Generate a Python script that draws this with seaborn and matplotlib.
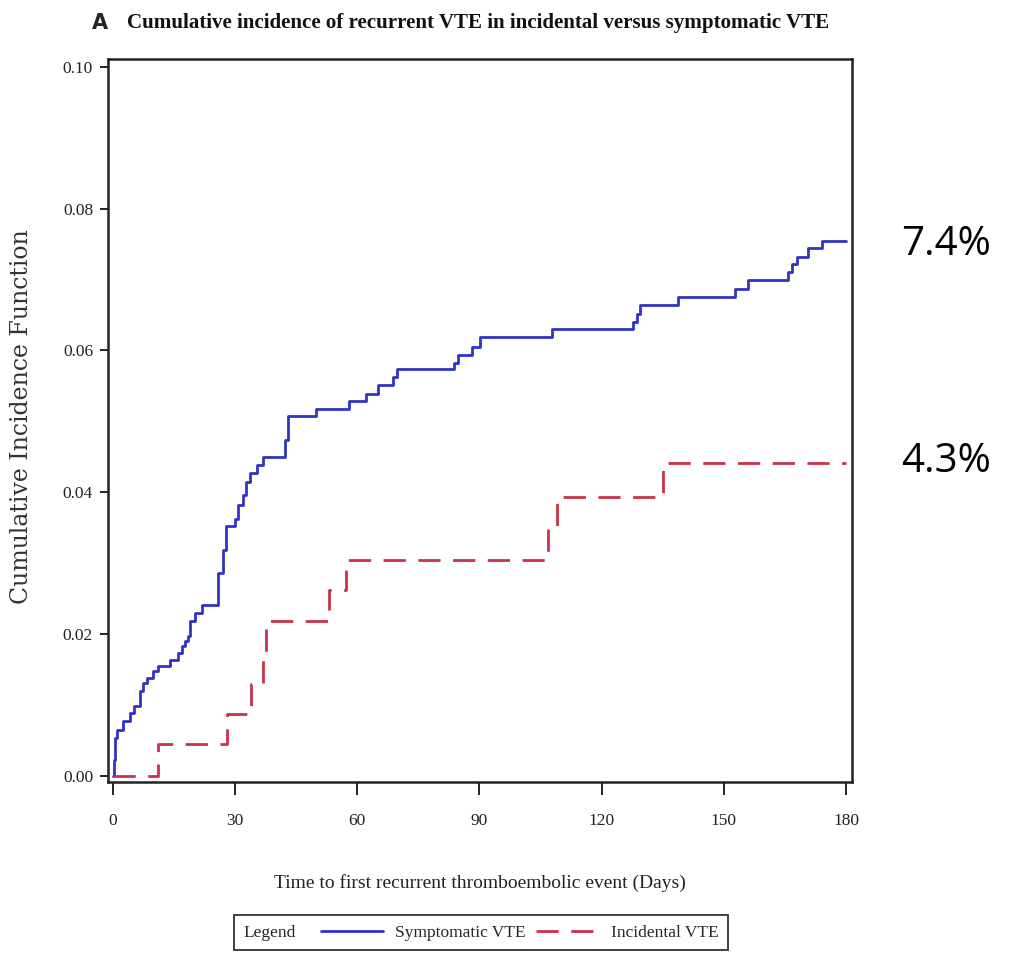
import numpy as np
import pandas as pd
import matplotlib.pyplot as plt
import seaborn as sns
from matplotlib.offsetbox import HPacker

# === DATA ===
sym_days = [0, 0.2, 0.5, 1.1, 2.5, 4.2, 5.2, 6.6, 7.4, 8.5, 9.8, 11.1, 14.0, 16.0,
            16.9, 17.8, 18.5, 18.9, 20.1, 21.8, 25.9, 27.1, 27.9, 30.0, 30.8, 32.0,
            32.8, 33.6, 35.3, 36.9, 42.2, 43.1, 49.8, 58.0, 62.1, 65.0, 68.8, 69.9,
            83.7, 84.8, 88.1, 90.1, 107.9, 127.8, 128.6, 129.4, 138.8, 152.7, 156.0,
            165.8, 166.8, 167.9, 170.7, 174.0, 180.0]
sym_cif = [0.0, 0.0023, 0.0054, 0.0065, 0.0077, 0.0089, 0.0099, 0.0120, 0.0131,
           0.0138, 0.0148, 0.0155, 0.0164, 0.0173, 0.0183, 0.0190, 0.0197, 0.0218,
           0.0230, 0.0241, 0.0286, 0.0319, 0.0352, 0.0363, 0.0382, 0.0396, 0.0415,
           0.0427, 0.0439, 0.0450, 0.0474, 0.0507, 0.0518, 0.0529, 0.0539, 0.0551,
           0.0563, 0.0574, 0.0582, 0.0594, 0.0605, 0.0619, 0.0630, 0.0640, 0.0652,
           0.0664, 0.0676, 0.0686, 0.0699, 0.0711, 0.0722, 0.0732, 0.0745, 0.0755,
           0.0755]

inc_days = [0, 11.1, 28.1, 34.0, 36.9, 37.7, 53.1, 57.2, 106.9, 109.0, 135.1, 180.0]
inc_cif = [0.0, 0.0045, 0.0088, 0.0130, 0.0173, 0.0218, 0.0262, 0.0305, 0.0349,
           0.0394, 0.0441, 0.0441]

groups = ["Symptomatic VTE", "Incidental VTE"]
x_ticks = [0, 30, 60, 90, 120, 150, 180]
y_ticks = [0.00, 0.02, 0.04, 0.06, 0.08, 0.10]
end_labels = ["7.4%", "4.3%"]

df = pd.concat([
    pd.DataFrame({"day": sym_days, "cif": sym_cif, "group": groups[0]}),
    pd.DataFrame({"day": inc_days, "cif": inc_cif, "group": groups[1]}),
], ignore_index=True)

# === STYLE ===
sns.set_theme(style="ticks")
plt.rcParams["font.family"] = ["Liberation Serif", "DejaVu Serif"]

palette = {groups[0]: "#3232c4", groups[1]: "#c8324a"}
dashes = {groups[0]: "", groups[1]: (8, 4.5)}

fig = plt.figure(figsize=(10.17, 9.56), dpi=100)
ax = fig.add_axes([0.1065, 0.182, 0.7316, 0.7563])

sns.lineplot(data=df, x="day", y="cif", hue="group", style="group",
             hue_order=groups, style_order=groups, palette=palette, dashes=dashes,
             drawstyle="steps-post", estimator=None, linewidth=2.0, legend=False, ax=ax)

ax.set_xlim(-1.08, 181.55)
ax.set_ylim(-0.00085, 0.1011)
ax.set_xticks(x_ticks)
ax.set_xticklabels([str(t) for t in x_ticks])
ax.set_yticks(y_ticks)
ax.set_yticklabels([f"{t:.2f}" for t in y_ticks])
ax.tick_params(axis="x", direction="out", length=9, width=1.4, pad=13, labelsize=12.5, colors="#222222")
ax.tick_params(axis="y", direction="out", length=6, width=1.4, pad=5, labelsize=12.5, colors="#222222")
for s in ax.spines.values():
    s.set_visible(True)
    s.set_linewidth(1.8)
    s.set_color("#222222")

ax.set_xlabel("Time to first recurrent thromboembolic event (Days)", fontsize=14, color="#222222")
ax.xaxis.set_label_coords(0.5, -0.128)
ax.set_ylabel("Cumulative Incidence Function", fontsize=17, family="DejaVu Serif", color="#333333")
ax.yaxis.set_label_coords(-0.101, 0.505)

# title
fig.text(0.0905, 0.976, "A", fontsize=15, weight="bold", family="DejaVu Sans", va="center", ha="left")
fig.text(0.4705, 0.976, "Cumulative incidence of recurrent VTE in incidental versus symptomatic VTE",
         fontsize=15.1, weight="bold", va="center", ha="center", color="#111111")

# end-of-curve percentages
fig.text(0.930, 0.744, end_labels[0], fontsize=29, family="Open Sans", ha="center", va="center", color="black")
fig.text(0.930, 0.517, end_labels[1], fontsize=29, family="Open Sans", ha="center", va="center", color="black")

# legend box with "Legend" at the left
leg = fig.legend(handles=ax.get_lines()[:2], labels=groups, title="Legend", ncol=2,
                 loc="lower center", bbox_to_anchor=(0.473, 0.006), frameon=True,
                 fancybox=False, edgecolor="#111111", fontsize=12.5, title_fontsize=12.5,
                 handlelength=3.6, columnspacing=0.6, handletextpad=0.7, borderpad=0.55,
                 borderaxespad=0.0)
leg.get_frame().set_linewidth(1.4)
old = leg._legend_box
row = HPacker(pad=old.pad, sep=18, align="center", children=old.get_children())
row.set_figure(fig)
leg._legend_box = row
row.set_offset(leg._findoffset)

plt.savefig("out.png", dpi=100)
plt.close()
